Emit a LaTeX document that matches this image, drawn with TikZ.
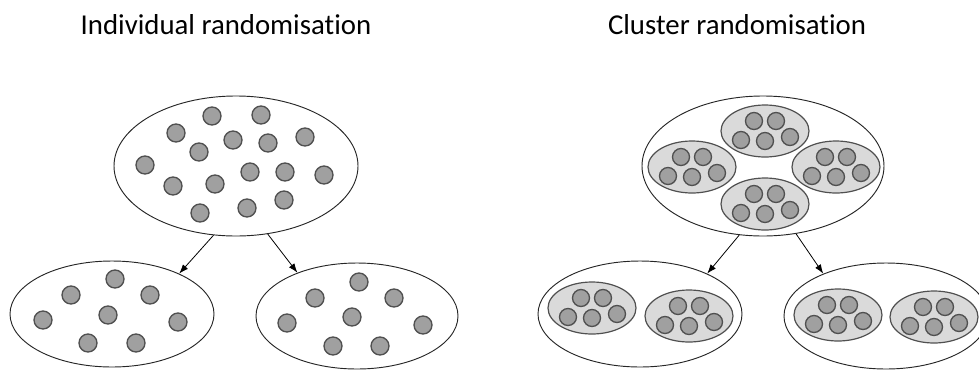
\documentclass[tikz,border=0pt]{standalone}
\usepackage{fontspec}
\setmainfont{Carlito}[Ligatures={NoCommon,NoContextual}]
\usetikzlibrary{shapes.geometric,arrows.meta}

\definecolor{dotfill}{RGB}{160,160,160}
\definecolor{dotline}{RGB}{80,80,80}
\definecolor{clusfill}{RGB}{218,218,218}

\tikzset{
	grp/.style 2 args={draw=black!85, ellipse, inner sep=0pt, line width=0.7pt, minimum width=#1, minimum height=#2},
	dot/.style={fill=dotfill, draw=dotline, line width=1pt},
	clus/.style={fill=clusfill, draw=dotline, line width=0.9pt},
	title/.style={anchor=base, font=\fontsize{21.6}{26}\selectfont}
}

% ein Cluster mit fuenf Personen
\newcommand{\cluster}[1]{%
	\draw[clus] (#1) ellipse (44 and 26);
	\foreach \dx/\dy in {-11/-10,11/-10,-24/9,0/10,25/6}
	\draw[dot, shift={(#1)}] (\dx,\dy) circle (8.5);
}

\begin{document}
\begin{tikzpicture}
	[
	x=0.75pt, y=-0.75pt, >={Latex[length=7pt,width=5pt]}
	%Koordinaten in Pixeln
	]
	\useasboundingbox (0,0) rectangle (979,369);
	
	%Ueberschriften
	\node[title] (ttlInd) at (226,34) {Individual randomisation};
	\node[title] (ttlClu) at (737,34) {Cluster randomisation};
	
	%Individuelle Randomisierung
	\node[grp={183pt}{105pt}] (indTop) at (236,166) {};
	\node[grp={153pt}{79.5pt}] (indA) at (112,314) {};
	\node[grp={151.5pt}{79.5pt}] (indB) at (357,316) {};
	
	\foreach \p in {(212,116),(261,115),(176,133),(233,140),(268,143),(305,137),(199,152),(145,165),(250,172),(285,172),(324,175),(173,186),(215,184),(200,213),(247,208),(284,200)}
	\draw[dot] \p circle (9);
	\foreach \p in {(115,279),(71,295),(150,295),(43,320),(108,315),(178,322),(88,343),(136,343)}
	\draw[dot] \p circle (9);
	\foreach \p in {(359,282),(315,298),(394,298),(287,323),(352,317),(423,325),(333,346),(380,346)}
	\draw[dot] \p circle (9);
	
	\draw [->, line width=0.6pt] (indTop.252) -- (indA.31);
	\draw [->, line width=0.6pt] (indTop.295) -- (indB.144);
	
	%Cluster-Randomisierung
	\node[grp={181.5pt}{105pt}] (cluTop) at (763,166) {};
	\node[grp={153pt}{79.5pt}] (cluA) at (640,314) {};
	\node[grp={153pt}{79.5pt}] (cluB) at (886,316) {};
	
	\cluster{765,131}
	\cluster{692,167}
	\cluster{836,167}
	\cluster{765,204}
	\cluster{592,308}
	\cluster{689,316}
	\cluster{838,315}
	\cluster{934,317}
	
	\draw [->, line width=0.6pt] (cluTop.251) -- (cluA.31);
	\draw [->, line width=0.6pt] (cluTop.296) -- (cluB.146);
\end{tikzpicture}
\end{document}
